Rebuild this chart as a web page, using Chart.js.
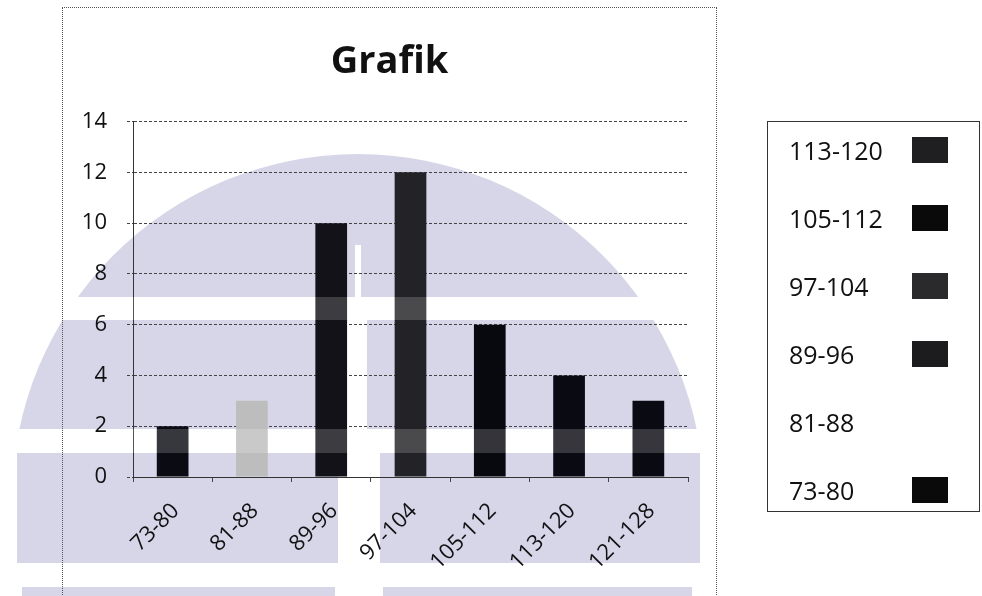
<!DOCTYPE html>
<html lang="id">
<head>
    <meta charset="UTF-8">
    <title>Grafik</title>
    <script src="https://cdn.jsdelivr.net/npm/chart.js"></script>
    <style>
        body {
            margin: 0;
            width: 982px;
            height: 596px;
            overflow: hidden;
            position: relative;
            background-color: #fff;
            font-family: 'Open Sans', sans-serif;
            color: #111;
        }
        #watermark {
            position: absolute;
            left: 0;
            top: 0;
        }
        .frame {
            position: absolute;
            left: 62px;
            top: 7px;
            width: 653px;
            height: 620px;
            border: 1px dotted #555;
        }
        .frame canvas {
            display: block;
        }
        .legend-box {
            position: absolute;
            left: 767px;
            top: 121px;
            width: 211px;
            height: 389px;
            border: 1px solid #333;
        }
        .legend-row {
            position: absolute;
            left: 21px;
            width: 170px;
            height: 68px;
            line-height: 68px;
            font-size: 25px;
        }
        .legend-row i {
            position: absolute;
            left: 123px;
            top: 21px;
            width: 36px;
            height: 26px;
        }
    </style>
</head>
<body>
    <canvas id="watermark" width="982" height="596"></canvas>
    <div class="frame">
        <canvas id="grafik" width="653" height="588"></canvas>
    </div>
    <div class="legend-box" id="legend"></div>
    <script>
        const categories = ['73-80', '81-88', '89-96', '97-104', '105-112', '113-120', '121-128'];
        const counts = [2, 3, 10, 12, 6, 4, 3];
        const barColors = ['#0b0b14', '#bdbdbd', '#121218', '#232327', '#08080f', '#0a0a12', '#0a0a12'];

        // legend as printed (121-128 fell off, 81-88 swatch faded out in the scan)
        const legendLabels = ['113-120', '105-112', '97-104', '89-96', '81-88', '73-80'];
        const legendSwatches = ['#1f1f22', '#0a0a0a', '#2a2a2c', '#1c1c1e', 'transparent', '#0a0a0a'];

        // faint logo watermark behind the page
        function drawWatermark() {
            const g = document.getElementById('watermark').getContext('2d');
            g.fillStyle = '#d7d6e9';
            g.save();
            g.beginPath();
            g.arc(358, 500, 346, 0, Math.PI * 2);
            g.clip();
            g.fillRect(0, 0, 982, 297);
            g.fillRect(0, 320, 347, 109);
            g.fillRect(367, 320, 615, 109);
            g.restore();
            g.fillRect(17, 453, 321, 110);
            g.fillRect(380, 453, 320, 110);
            g.fillRect(22, 587, 313, 20);
            g.fillRect(383, 587, 309, 20);
            g.fillStyle = '#ffffff';
            g.fillRect(355, 245, 6, 52);
        }
        drawWatermark();

        // the white gaps of the watermark wash out the bars a little
        const scanStrips = {
            id: 'scanStrips',
            afterDatasetsDraw(chart) {
                const { ctx, chartArea } = chart;
                ctx.save();
                ctx.fillStyle = 'rgba(255,255,255,0.18)';
                ctx.fillRect(chartArea.left, 289, chartArea.right - chartArea.left, 23);
                ctx.fillRect(chartArea.left, 421, chartArea.right - chartArea.left, 24);
                ctx.restore();
            }
        };

        new Chart(document.getElementById('grafik'), {
            type: 'bar',
            data: {
                labels: categories,
                datasets: [{
                    data: counts,
                    backgroundColor: barColors,
                    borderWidth: 0,
                    barPercentage: 0.4,
                    categoryPercentage: 1
                }]
            },
            options: {
                responsive: false,
                animation: false,
                layout: { padding: 0 },
                scales: {
                    x: {
                        offset: true,
                        grid: { drawOnChartArea: false, drawTicks: true, tickLength: 5, color: '#444' },
                        border: { display: true, color: '#333' },
                        ticks: {
                            font: { family: 'Open Sans', size: 22 },
                            color: '#111',
                            minRotation: 45,
                            maxRotation: 45,
                            padding: 16,
                            labelOffset: 3
                        },
                        afterFit(s) { s.height = 119; }
                    },
                    y: {
                        min: 0,
                        max: 14,
                        grid: { color: '#444', tickLength: 6, tickBorderDash: [3, 2] },
                        border: { display: true, color: '#333', dash: [3, 2] },
                        ticks: { stepSize: 2, font: { family: 'Open Sans', size: 22 }, color: '#111', padding: 20 },
                        afterFit(s) { s.width = 70; }
                    },
                    // empty right-hand gutter so the title stays centred on the frame
                    gutter: {
                        type: 'linear',
                        position: 'right',
                        grid: { display: false },
                        border: { display: false },
                        ticks: { display: false },
                        afterFit(s) { s.width = 28; }
                    }
                },
                plugins: {
                    legend: { display: false },
                    tooltip: { enabled: false },
                    title: {
                        display: true,
                        text: 'Grafik',
                        color: '#111',
                        font: { family: 'Open Sans', size: 38, weight: 'bold' },
                        padding: { top: 31, bottom: 37 }
                    }
                }
            },
            plugins: [scanStrips]
        });

        // legend
        const box = document.getElementById('legend');
        legendLabels.forEach((label, i) => {
            const row = document.createElement('div');
            row.className = 'legend-row';
            row.style.top = (i * 68 - 6) + 'px';
            row.textContent = label;
            const sw = document.createElement('i');
            sw.style.background = legendSwatches[i];
            row.appendChild(sw);
            box.appendChild(row);
        });
    </script>
</body>
</html>
